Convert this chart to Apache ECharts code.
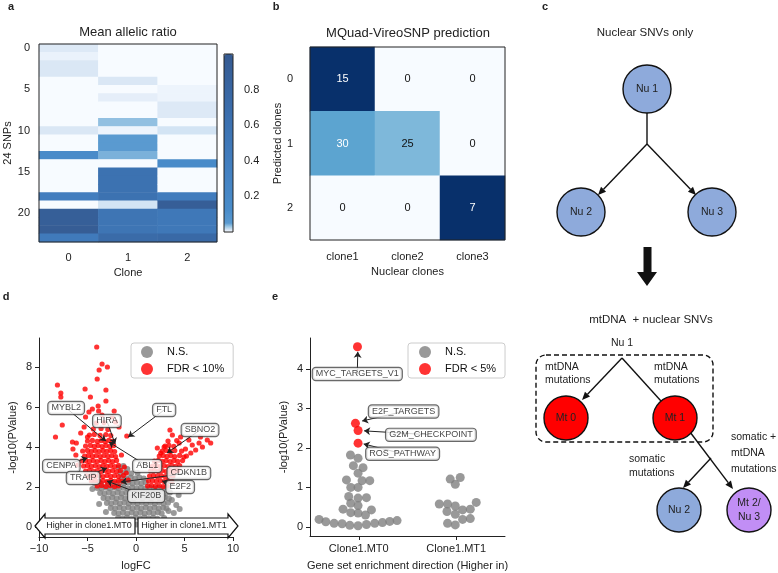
<!DOCTYPE html>
<html><head><meta charset="utf-8">
<script src="https://cdn.jsdelivr.net/npm/echarts@6/dist/echarts.min.js"></script>
<style>html,body{margin:0;padding:0;background:#fff}#c{width:778px;height:573px}</style>
</head><body><div id="c"></div>
<script>
const FONT = 'Liberation Sans, Arial, Helvetica, sans-serif';

// ---------- panel a ----------
const clones = ['0', '1', '2'];
const snpLabels = ['0','1','2','3','4','5','6','7','8','9','10','11','12','13','14','15','16','17','18','19','20','21','22','23'];
const ratioClone0 = [0.01,0.005,0.011,0.011,0,0,0,0,0,0,0.011,0,0,0.15,0,0,0,0,0.4,0,0.92,0.92,0.95,0.45];
const ratioClone1 = [0,0,0,0,0.011,0,0.007,0,0,0.033,0.004,0.05,0.05,0.04,0,0.6,0.6,0.6,0.6,0.013,0.55,0.55,0.55,0.72];
const ratioClone2 = [0,0,0,0,0,0.004,0.004,0.01,0.01,0,0.013,0,0,0,0.15,0,0,0,0.42,0.93,0.5,0.5,0.5,0.75];
const colorbarTicks = [0.2, 0.4, 0.6, 0.8];

// ---------- panel b ----------
const nuclearClones = ['clone1', 'clone2', 'clone3'];
const predClones = ['0', '1', '2'];
const confusion = [[15, 0, 0], [30, 25, 0], [0, 0, 7]];

// ---------- panel d ----------
const volcanoNS = [
[-1.3,0.2],[-0.85,0.15],[-0.4,0.22],[0.05,0.12],[0.5,0.2],[0.95,0.15],[1.4,0.22],[1.85,0.18],
[-1.85,0.45],[-1.4,0.42],[-0.95,0.48],[-0.5,0.4],[-0.05,0.47],[0.4,0.42],[0.85,0.48],[1.3,0.43],[1.75,0.46],[2.2,0.41],
[-2.25,0.7],[-1.8,0.68],[-1.35,0.73],[-0.9,0.66],[-0.45,0.72],[0,0.68],[0.45,0.73],[0.9,0.67],[1.35,0.72],[1.8,0.69],[2.25,0.74],[2.65,0.68],
[-2.6,0.95],[-2.15,0.92],[-1.7,0.97],[-1.25,0.93],[-0.8,0.98],[-0.35,0.92],[0.1,0.96],[0.55,0.93],[1.0,0.98],[1.45,0.92],[1.9,0.97],[2.35,0.93],[2.8,0.96],[3.15,0.92],
[-3.0,1.2],[-2.55,1.17],[-2.1,1.22],[-1.65,1.18],[-1.2,1.23],[-0.75,1.17],[-0.3,1.21],[0.15,1.18],[0.6,1.23],[1.05,1.17],[1.5,1.22],[1.95,1.18],[2.4,1.23],[2.85,1.17],[3.3,1.21],
[-3.35,1.45],[-2.9,1.42],[-2.45,1.47],[-2.0,1.43],[-1.55,1.48],[-1.1,1.42],[-0.65,1.46],[-0.2,1.43],[0.25,1.48],[0.7,1.42],[1.15,1.47],[1.6,1.43],[2.05,1.48],[2.5,1.42],[2.95,1.46],[3.4,1.43],
[-3.7,1.7],[-3.25,1.67],[-2.8,1.72],[-2.35,1.68],[-1.9,1.73],[-1.45,1.67],[-1.0,1.71],[-0.55,1.68],[-0.1,1.73],[0.35,1.67],[0.8,1.72],[1.25,1.68],[1.7,1.73],[2.15,1.67],[2.6,1.71],[3.05,1.68],[3.5,1.72],
[-4.0,1.95],[-3.55,1.92],[-3.1,1.97],[-2.65,1.93],[-2.2,1.98],[-1.75,1.92],[-1.3,1.96],[-0.85,1.93],[-0.4,1.98],[0.05,1.92],[0.5,1.96],[0.95,1.93],[1.4,1.98],[1.85,1.92],[2.3,1.96],[2.75,1.93],[3.2,1.97],
[-4.3,2.2],[-3.6,2.18],[-2.9,2.23],[-2.2,2.17],[-1.7,2.22],[-1.25,2.18],[-0.8,2.23],[-0.35,2.17],[0.1,2.21],[0.55,2.18],[1.0,2.23],
[-1.45,2.45],[-1.0,2.42],[-0.55,2.47],[-0.1,2.43],[0.35,2.48],[0.8,2.42],
[-1.6,2.7],[-1.1,2.72],[-0.5,2.68],[0.15,2.7],[-1.75,2.98],[-1.3,3.05],[-0.9,2.9],
[3.7,1.35],[4.15,1.1],[4.5,0.9],[3.9,0.7],[-3.8,1.15],[4.4,1.6],[-3.1,0.75],[2.9,0.45],[3.35,0.8],[-4.5,1.9]
];
const volcanoSig = [
[-4.0,2.05],[-3.55,2.08],[-3.1,2.03],[-2.65,2.07],[-2.2,2.02],[-1.8,2.06],
[-4.6,2.3],[-4.2,2.33],[-3.8,2.28],[-3.4,2.32],[-3.0,2.27],[-2.6,2.33],[-2.2,2.28],[-1.8,2.32],[-1.4,2.3],[-0.8,2.35],
[-5.0,2.55],[-4.6,2.58],[-4.2,2.53],[-3.8,2.57],[-3.4,2.52],[-3.0,2.58],[-2.6,2.53],[-2.2,2.57],[-1.8,2.52],[-1.3,2.58],
[-5.2,2.8],[-4.8,2.83],[-4.4,2.78],[-4.0,2.82],[-3.6,2.77],[-3.2,2.83],[-2.8,2.78],[-2.4,2.82],[-2.0,2.77],[-1.6,2.83],
[-5.4,3.05],[-5.0,3.08],[-4.6,3.03],[-4.2,3.07],[-3.8,3.02],[-3.4,3.08],[-3.0,3.03],[-2.6,3.07],[-2.2,3.02],[-1.8,3.08],
[-5.6,3.3],[-5.2,3.33],[-4.8,3.28],[-4.4,3.32],[-4.0,3.27],[-3.6,3.33],[-3.2,3.28],[-2.8,3.32],[-2.4,3.27],[-2.0,3.33],
[-5.3,3.55],[-4.9,3.58],[-4.5,3.53],[-4.1,3.57],[-3.7,3.52],[-3.3,3.58],[-2.9,3.53],[-2.5,3.57],[-2.1,3.52],
[-5.5,3.8],[-5.0,3.83],[-4.6,3.78],[-4.2,3.82],[-3.8,3.77],[-3.4,3.83],[-3.0,3.78],[-2.6,3.82],[-2.2,3.77],
[-5.2,4.05],[-4.7,4.08],[-4.3,4.03],[-3.9,4.07],[-3.5,4.02],[-3.1,4.08],[-2.7,4.03],[-2.3,4.07],
[-5.0,4.3],[-4.5,4.33],[-4.0,4.28],[-3.6,4.32],[-3.2,4.27],[-2.8,4.33],[-2.4,4.28],
[-4.8,4.6],[-4.3,4.63],[-3.7,4.58],[-3.1,4.62],[-2.6,4.57],[-4.4,4.9],[-3.6,4.93],[-2.9,4.88],[-4.1,5.2],[-3.3,5.22],
[1.2,2.05],[1.6,2.08],[2.0,2.03],[2.4,2.07],[2.8,2.02],[3.2,2.06],
[1.3,2.3],[1.7,2.33],[2.1,2.28],[2.5,2.32],[2.9,2.27],[3.3,2.33],[3.7,2.28],
[1.4,2.55],[1.8,2.58],[2.2,2.53],[2.6,2.57],[3.0,2.52],[3.4,2.58],[3.8,2.53],
[1.5,2.8],[1.9,2.83],[2.3,2.78],[2.7,2.82],[3.1,2.77],[3.5,2.83],[3.9,2.78],[4.3,2.82],
[1.7,3.05],[2.1,3.08],[2.5,3.03],[2.9,3.07],[3.3,3.02],[3.7,3.08],[4.1,3.03],[4.5,3.07],
[1.9,3.3],[2.3,3.33],[2.7,3.28],[3.1,3.32],[3.5,3.27],[3.9,3.33],[4.3,3.28],[4.8,3.32],
[2.4,3.55],[2.8,3.58],[3.2,3.53],[3.6,3.57],[4.0,3.52],[4.5,3.58],[5.2,3.55],
[2.7,3.8],[3.1,3.83],[3.5,3.78],[4.0,3.82],[4.7,3.8],
[3.0,4.05],[3.4,4.08],[3.9,4.03],[3.3,4.3],[4.2,4.32],
[-4.05,9.0],[-3.5,8.15],[-2.95,8.0],[-3.8,7.85],[-4.0,7.4],[-8.1,7.1],[-5.25,6.9],[-3.1,6.85],[-7.75,6.7],[-7.75,6.5],
[-4.7,6.5],[-3.1,6.3],[-3.9,6.05],[-4.5,5.9],[-3.85,5.8],[-2.25,5.8],[-4.85,5.75],[-5.2,5.5],[-2.45,5.5],[-3.5,5.6],
[-7.6,5.1],[-8.3,4.5],[-6.55,4.25],[-6.15,4.2],[-0.95,4.55],[-1.75,5.0],[-2.1,5.25],[-5.35,5.0],[-5.7,4.7],[-5.0,4.5],
[-6.2,3.6],[-6.0,3.1],[-1.5,3.6],[-1.2,3.0],[-1.0,2.7],[-6.5,3.9],
[3.5,4.85],[3.75,4.6],[4.6,4.5],[6.65,4.5],[7.35,4.35],[7.7,4.2],[6.5,4.2],[5.8,4.1],[6.15,3.85],[5.1,3.9],
[2.55,3.7],[2.2,3.95],[2.9,4.0],[4.45,4.2],[5.45,4.35],[6.85,4.0],[4.95,3.5],[5.65,3.7]
];
const geneNames = ['MYBL2','HIRA','FTL','SBNO2','CENPA','ABL1','TRAIP','CDKN1B','E2F2','KIF20B'];
const geneLabelAt = [[-7.2,5.95],[-3.0,5.3],[2.9,5.85],[6.6,4.85],[-7.7,3.05],[1.15,3.05],[-5.45,2.45],[5.45,2.7],[4.55,2.0],[1.05,1.55]];
const genePoint = [[-3.1,4.3],[-2.15,4.15],[-0.8,4.5],[3.2,3.7],[-5.0,3.45],[-2.8,4.25],[-3.0,2.95],[-1.55,2.25],[2.7,2.3],[-3.0,2.3]];
const dTicks = [0, 2, 4, 6, 8];

// ---------- panel e ----------
const enrichCats = ['Clone1.MT0', 'Clone1.MT1'];
const gsNS = [
[-0.085,1.82],[-0.007,1.74],[-0.055,1.55],[0.044,1.5],[-0.007,1.36],[-0.126,1.19],[0.034,1.17],[0.113,1.17],
[-0.082,1.0],[-0.007,1.0],[-0.103,0.77],[-0.007,0.73],[0.079,0.74],[-0.082,0.6],[-0.007,0.54],[-0.161,0.45],
[0.13,0.43],[-0.082,0.36],[-0.007,0.35],[0.069,0.3],[-0.407,0.19],[-0.338,0.13],[-0.253,0.09],[-0.171,0.08],
[-0.092,0.04],[-0.007,0.03],[0.079,0.06],[0.164,0.09],[0.243,0.11],[0.318,0.14],[0.393,0.16],
[0.938,1.21],[1.041,1.25],[0.99,1.08],[0.826,0.58],[0.911,0.58],[0.99,0.53],[1.065,0.43],[1.144,0.45],
[1.205,0.62],[0.905,0.39],[0.99,0.32],[1.065,0.19],[1.144,0.21],[0.911,0.09],[0.99,0.05]
];
const gsSig = [[-0.013,4.56],[-0.034,2.62],[-0.007,2.44],[-0.007,2.12]];
const gsNames = ['MYC_TARGETS_V1','E2F_TARGETS','G2M_CHECKPOINT','ROS_PATHWAY'];
const gsLabelAt = [[-0.015,3.87],[0.46,2.92],[0.74,2.33],[0.45,1.85]];
const gsArrowTo = [[-0.01,4.43],[0.035,2.68],[0.055,2.43],[0.05,2.1]];
const eTicks = [0, 1, 2, 3, 4];

// ---------- helpers ----------
function hex(c){return [parseInt(c.slice(1,3),16),parseInt(c.slice(3,5),16),parseInt(c.slice(5,7),16)];}
function gradient(anchors, n){
  const out=[];
  for(let i=0;i<=n;i++){
    const v=i/n; let k=0;
    while(k<anchors.length-2 && v>anchors[k+1][0]) k++;
    const [v0,c0]=anchors[k],[v1,c1]=anchors[k+1];
    const t=Math.max(0,Math.min(1,(v-v0)/(v1-v0)));
    const a=hex(c0),b=hex(c1);
    out.push('rgb('+a.map((x,j)=>Math.round(x+(b[j]-x)*t)).join(',')+')');
  }
  return out;
}
const cbColors = gradient([[0,'#f7fbff'],[0.01,'#dde9f6'],[0.03,'#9cc7e4'],[0.05,'#5a9ad0'],[0.12,'#4a8dca'],[0.35,'#4380c1'],[0.65,'#3b6fae'],[1,'#355a91']], 200);
const blues = ['#f7fbff','#deebf7','#c6dbef','#9ecae1','#6baed6','#4292c6','#2171b5','#08519c','#08306b'];

const ratios = [ratioClone0, ratioClone1, ratioClone2];
const heatA = [];
ratios.forEach((col,c)=>col.forEach((v,r)=>heatA.push([c,r,v])));
const heatB = [];
confusion.forEach((row,r)=>{
  const s=row.reduce((a,b)=>a+b,0);
  row.forEach((v,c)=>{const nv=v/s; heatB.push({value:[c,r,nv,v],label:{color: nv>0.5?'#ffffff':'#111111'}});});
});

const AX = '#222';
const tickStyle = {lineStyle:{color:AX,width:1}};
function nameStyle(){return {fontSize:11,color:AX,fontFamily:FONT};}

function txt(x,y,text,size,opts){return Object.assign({type:'text',x:x,y:y,style:Object.assign({text:text,fill:'#222',fontSize:size,fontFamily:FONT,align:'center',verticalAlign:'middle'},(opts&&opts.style)||{})},(opts&&opts.el)||{});}
function circ(cx,cy,r,fill){return {type:'circle',shape:{cx:cx,cy:cy,r:r},style:{fill:fill,stroke:'#111',lineWidth:1.4}};}
function seg(x1,y1,x2,y2){return {type:'line',shape:{x1:x1,y1:y1,x2:x2,y2:y2},style:{stroke:'#111',lineWidth:1.4}};}
function arrow(x1,y1,x2,y2){
  const a=Math.atan2(y2-y1,x2-x1),L=8,W=3.5;
  const bx=x2-L*Math.cos(a),by=y2-L*Math.sin(a);
  return [seg(x1,y1,bx,by),{type:'polygon',shape:{points:[[x2,y2],[bx+W*Math.sin(a),by-W*Math.cos(a)],[bx-W*Math.sin(a),by+W*Math.cos(a)]]},style:{fill:'#111'}}];
}
const BLUE='#8eaadb', RED='#ff0000', PURPLE='#c18ef5';
const bold = {style:{fontWeight:'bold',fontSize:11}};

const graphics = [
  txt(11,7,'a',11,bold), txt(276,7,'b',11,bold), txt(545,7,'c',11,bold), txt(6,297,'d',11,bold), txt(275,297,'e',11,bold),
  txt(128,32,'Mean allelic ratio',13), txt(408,33,'MQuad-VireoSNP prediction',13),
  // panel c, top tree
  txt(645,33,'Nuclear SNVs only',11.5),
  seg(647,113,647,144), ...arrow(647,144,598,195), ...arrow(647,144,696,195),
  circ(647,89,24,BLUE), txt(647,89,'Nu 1',10.5),
  circ(581,212,24,BLUE), txt(581,212,'Nu 2',10.5),
  circ(712,212,24,BLUE), txt(712,212,'Nu 3',10.5),
  {type:'polygon',shape:{points:[[643.5,247],[651.5,247],[651.5,272],[657,272],[647,286],[637,272],[643.5,272]]},style:{fill:'#111'}},
  // panel c, bottom tree
  txt(651,320,'mtDNA  + nuclear SNVs',11.5),
  txt(622,343,'Nu 1',10.5),
  {type:'rect',shape:{x:536,y:355,width:177,height:87,r:10},style:{fill:'none',stroke:'#111',lineWidth:1.4,lineDash:[5,3]}},
  ...arrow(622,358,582,400), seg(622,358,661,401),
  txt(545,367,'mtDNA',10.5,{style:{align:'left'}}), txt(545,380,'mutations',10.5,{style:{align:'left'}}),
  txt(654,367,'mtDNA',10.5,{style:{align:'left'}}), txt(654,380,'mutations',10.5,{style:{align:'left'}}),
  ...arrow(690,432,733,489), ...arrow(711,458,683,488),
  circ(566,418,22,RED), txt(566,418,'Mt 0',10.5),
  circ(675,418,22,RED), txt(675,418,'Mt 1',10.5),
  txt(629,459,'somatic',10.5,{style:{align:'left'}}), txt(629,473,'mutations',10.5,{style:{align:'left'}}),
  txt(731,437,'somatic +',10.5,{style:{align:'left'}}), txt(731,453,'mtDNA',10.5,{style:{align:'left'}}), txt(731,469,'mutations',10.5,{style:{align:'left'}}),
  circ(679,510,22,BLUE), txt(679,510,'Nu 2',10.5),
  circ(749,510,22,PURPLE), txt(749,503,'Mt 2/',10.5), txt(749,517,'Nu 3',10.5),
  // panel d direction arrows
  {type:'polygon',z:50,shape:{points:[[35,526],[45,514],[45,518],[135,518],[135,534],[45,534],[45,538]]},style:{fill:'#fff',stroke:'#111',lineWidth:1.2}},
  {type:'polygon',z:50,shape:{points:[[138,518],[228,518],[228,514],[238,526],[228,538],[228,534],[138,534]]},style:{fill:'#fff',stroke:'#111',lineWidth:1.2}},
  txt(89,526,'Higher in clone1.MT0',9,{el:{z:51}}), txt(184,526,'Higher in clone1.MT1',9,{el:{z:51}})
];

const annoLabel = {show:true,position:'inside',fontSize:9,color:'#111',fontFamily:FONT,backgroundColor:'#ffffff',borderColor:'#444',borderWidth:1.2,borderRadius:3,padding:[2,3,1,3],formatter:p=>p.data[2]};
const legendBase = {orient:'vertical',icon:'circle',itemWidth:12,itemHeight:12,itemGap:5,backgroundColor:'rgba(255,255,255,0.85)',borderColor:'#cccccc',borderWidth:1,borderRadius:3,textStyle:{fontSize:11,color:'#111',fontFamily:FONT,padding:[0,0,0,9]},selectedMode:false};

const option = {
  animation:false,
  textStyle:{fontFamily:FONT},
  grid:[
    {left:39,top:44,width:178,height:198,show:true,borderColor:AX,borderWidth:1,z:10,backgroundColor:'rgba(0,0,0,0)'},
    {left:224,top:54,width:9,height:178,show:true,borderColor:AX,borderWidth:1,z:10,backgroundColor:'rgba(0,0,0,0)'},
    {left:310,top:47,width:195,height:193,show:true,borderColor:AX,borderWidth:1,z:10,backgroundColor:'rgba(0,0,0,0)'},
    {left:39,top:338,width:194,height:199},
    {left:310,top:338,width:195,height:198}
  ],
  xAxis:[
    {gridIndex:0,type:'category',data:clones,axisLine:{show:false},axisTick:Object.assign({alignWithLabel:true,length:4},tickStyle),axisLabel:{fontSize:11,color:AX,margin:10},name:'Clone',nameLocation:'middle',nameGap:25,nameTextStyle:nameStyle()},
    {gridIndex:1,type:'value',show:false,min:0,max:1},
    {gridIndex:2,type:'category',data:nuclearClones,axisLine:{show:false},axisTick:Object.assign({alignWithLabel:true,length:4},tickStyle),axisLabel:{fontSize:11,color:AX,margin:11},name:'Nuclear clones',nameLocation:'middle',nameGap:26,nameTextStyle:nameStyle()},
    {gridIndex:3,type:'value',min:-10,max:10,interval:5,axisLine:{onZero:false,lineStyle:{color:AX}},axisTick:Object.assign({length:4},tickStyle),splitLine:{show:false},axisLabel:{fontSize:11,color:AX,margin:6,formatter:v=>String(v).replace('-','\u2212')},name:'logFC',nameLocation:'middle',nameGap:23,nameTextStyle:nameStyle()},
    {gridIndex:4,type:'value',min:-0.5,max:1.5,axisLine:{onZero:false,lineStyle:{color:AX}},axisTick:Object.assign({length:4,customValues:[0,1]},tickStyle),splitLine:{show:false},axisLabel:{fontSize:11,color:AX,margin:7,customValues:[0,1],formatter:v=>enrichCats[Math.round(v)]},name:'Gene set enrichment direction (Higher in)',nameLocation:'middle',nameGap:24,nameTextStyle:nameStyle()}
  ],
  yAxis:[
    {gridIndex:0,type:'category',data:snpLabels,inverse:true,axisLine:{show:false},axisTick:Object.assign({alignWithLabel:true,interval:4,length:4},tickStyle),axisLabel:{interval:4,fontSize:11,color:AX,margin:9},name:'24 SNPs',nameLocation:'middle',nameRotate:90,nameGap:26,nameTextStyle:nameStyle()},
    {gridIndex:1,type:'value',min:0,max:1,position:'right',axisLine:{show:false},splitLine:{show:false},axisTick:Object.assign({show:true,length:4,customValues:colorbarTicks},tickStyle),axisLabel:{fontSize:11,color:AX,margin:11,customValues:colorbarTicks}},
    {gridIndex:2,type:'category',data:predClones,inverse:true,axisLine:{show:false},axisTick:Object.assign({alignWithLabel:true,length:4},tickStyle),axisLabel:{fontSize:11,color:AX,margin:17},name:'Predicted clones',nameLocation:'middle',nameRotate:90,nameGap:23,nameTextStyle:nameStyle()},
    {gridIndex:3,type:'value',min:-0.5,max:9.45,axisLine:{show:true,onZero:false,lineStyle:{color:AX}},axisTick:Object.assign({show:true,length:4,customValues:dTicks},tickStyle),splitLine:{show:false},axisLabel:{fontSize:11,color:AX,margin:7,customValues:dTicks},name:'-log10(PValue)',nameLocation:'middle',nameRotate:90,nameGap:21,nameTextStyle:nameStyle()},
    {gridIndex:4,type:'value',min:-0.23,max:4.78,axisLine:{show:true,onZero:false,lineStyle:{color:AX}},axisTick:Object.assign({show:true,length:4,customValues:eTicks},tickStyle),splitLine:{show:false},axisLabel:{fontSize:11,color:AX,margin:7,customValues:eTicks},name:'-log10(PValue)',nameLocation:'middle',nameRotate:90,nameGap:21,nameTextStyle:nameStyle()}
  ],
  visualMap:[
    {type:'continuous',seriesIndex:0,dimension:2,min:0,max:1,inRange:{color:cbColors},left:224,top:54,itemWidth:9,itemHeight:178,padding:0,calculable:false,hoverLink:false,show:true,showLabel:false},
    {type:'continuous',seriesIndex:1,dimension:2,min:0,max:1,inRange:{color:blues},show:false}
  ],
  legend:[
    Object.assign({},legendBase,{data:['N.S.','FDR < 10%'],left:131,top:343,padding:[3,9,3,10]}),
    Object.assign({},legendBase,{data:['N.S.','FDR < 5%'],left:408,top:343,padding:[3,9,3,11]})
  ],
  series:[
    {type:'heatmap',xAxisIndex:0,yAxisIndex:0,data:heatA,emphasis:{disabled:true},silent:true},
    {type:'heatmap',xAxisIndex:2,yAxisIndex:2,data:heatB,emphasis:{disabled:true},silent:true,label:{show:true,fontSize:11,fontFamily:FONT,formatter:p=>String(p.data.value[3])}},
    {type:'scatter',xAxisIndex:1,yAxisIndex:1,data:[],silent:true},
    {name:'N.S.',type:'scatter',xAxisIndex:3,yAxisIndex:3,data:volcanoNS,symbolSize:6,itemStyle:{color:'#808080'},silent:true,z:2},
    {name:'FDR < 10%',type:'scatter',xAxisIndex:3,yAxisIndex:3,data:volcanoSig,symbolSize:5.2,itemStyle:{color:'#ff0000'},silent:true,z:3},
    {type:'lines',coordinateSystem:'cartesian2d',xAxisIndex:3,yAxisIndex:3,symbol:['none','arrow'],symbolSize:6,lineStyle:{color:'#222',width:1,opacity:1},data:geneNames.map((n,i)=>({coords:[geneLabelAt[i],genePoint[i]]})),silent:true,z:6},
    {type:'scatter',xAxisIndex:3,yAxisIndex:3,symbolSize:1,itemStyle:{color:'rgba(0,0,0,0)'},data:geneNames.map((n,i)=>[geneLabelAt[i][0],geneLabelAt[i][1],n]),label:annoLabel,silent:true,z:8},
    {name:'N.S.',type:'scatter',xAxisIndex:4,yAxisIndex:4,data:gsNS,symbolSize:9,itemStyle:{color:'#808080'},silent:true,z:2},
    {name:'FDR < 5%',type:'scatter',xAxisIndex:4,yAxisIndex:4,data:gsSig,symbolSize:9,itemStyle:{color:'#ff0000'},silent:true,z:3},
    {type:'lines',coordinateSystem:'cartesian2d',xAxisIndex:4,yAxisIndex:4,symbol:['none','arrow'],symbolSize:6,lineStyle:{color:'#222',width:1,opacity:1},data:gsNames.map((n,i)=>({coords:[gsLabelAt[i],gsArrowTo[i]]})),silent:true,z:6},
    {type:'scatter',xAxisIndex:4,yAxisIndex:4,symbolSize:1,itemStyle:{color:'rgba(0,0,0,0)'},data:gsNames.map((n,i)=>[gsLabelAt[i][0],gsLabelAt[i][1],n]),label:annoLabel,silent:true,z:8}
  ],
  graphic:{elements:graphics}
};
const chart = echarts.init(document.getElementById('c'), null, {renderer:'canvas'});
chart.setOption(option);
</script></body></html>
